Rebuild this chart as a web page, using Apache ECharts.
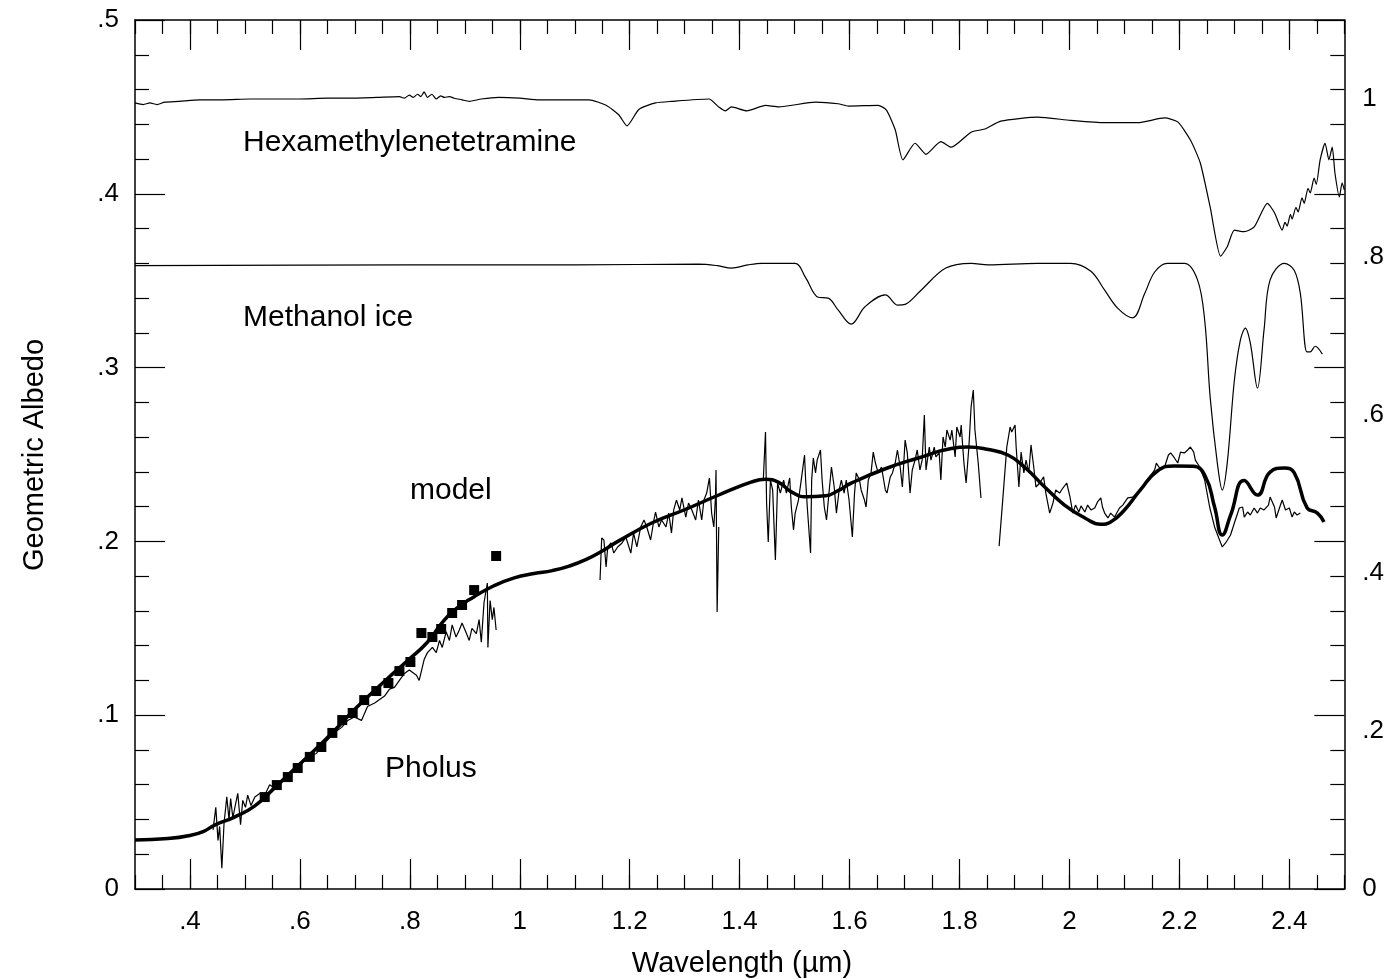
<!DOCTYPE html>
<html>
<head>
<meta charset="utf-8">
<script src="https://cdn.jsdelivr.net/npm/echarts@6/dist/echarts.min.js"></script>
<style>html,body{margin:0;padding:0;background:#fff}#c{width:1387px;height:979px}</style>
</head>
<body>
<div id="c"></div>
<script>
// ---------- data (wavelength in micrometres) ----------
const xTickLabels = [0.4,0.6,0.8,1.0,1.2,1.4,1.6,1.8,2.0,2.2,2.4];
const leftTickLabels = [0,0.1,0.2,0.3,0.4,0.5];
const rightTickLabels = [0,0.2,0.4,0.6,0.8,1.0];

// Hexamethylenetetramine lab spectrum (reflectance, right axis)
const hexamethylenetetramine = [
[0.300,0.995],[0.315,0.993],[0.327,0.995],[0.340,0.993],[0.354,0.996],[0.380,0.997],[0.418,0.999],[0.460,0.999],
[0.509,1.000],[0.560,1.000],[0.599,1.000],[0.650,1.001],[0.690,1.001],[0.740,1.002],[0.781,1.003],[0.790,1.001],
[0.799,1.005],[0.806,1.002],[0.814,1.006],[0.820,1.003],[0.826,1.009],[0.832,1.002],[0.840,1.006],[0.848,1.000],
[0.856,1.004],[0.863,1.002],[0.872,1.003],[0.881,1.001],[0.895,0.999],[0.908,0.997],[0.930,1.000],[0.962,1.002],
[1.000,1.001],[1.035,0.999],[1.080,0.999],[1.126,0.999],[1.157,0.992],[1.180,0.980],[1.195,0.966],[1.217,0.987],
[1.247,0.995],[1.276,0.997],[1.344,1.000],[1.362,0.990],[1.374,0.985],[1.385,0.990],[1.413,0.985],[1.447,0.992],
[1.471,0.990],[1.538,0.996],[1.579,0.994],[1.598,0.991],[1.652,0.992],[1.667,0.986],[1.683,0.961],[1.697,0.923],
[1.719,0.944],[1.739,0.930],[1.766,0.946],[1.785,0.939],[1.821,0.958],[1.846,0.962],[1.875,0.972],[1.942,0.977],
[2.002,0.973],[2.064,0.970],[2.124,0.970],[2.173,0.976],[2.197,0.971],[2.220,0.948],[2.238,0.919],[2.256,0.863],
[2.275,0.801],[2.287,0.813],[2.300,0.834],[2.318,0.832],[2.336,0.838],[2.360,0.868],[2.373,0.856],[2.387,0.834],
[2.392,0.844],[2.396,0.839],[2.402,0.854],[2.405,0.848],[2.412,0.863],[2.416,0.857],[2.423,0.875],[2.427,0.868],
[2.434,0.887],[2.438,0.881],[2.445,0.900],[2.449,0.892],[2.456,0.923],[2.465,0.944],
[2.472,0.923],[2.478,0.939],[2.483,0.906],[2.491,0.876],[2.496,0.894],[2.500,0.885]
];

// Methanol ice lab spectrum (reflectance, right axis)
const methanolIce = [
[0.300,0.789],[0.800,0.790],[1.100,0.790],[1.325,0.791],[1.360,0.789],[1.385,0.786],[1.415,0.790],[1.440,0.792],
[1.501,0.792],[1.520,0.774],[1.543,0.749],[1.561,0.748],[1.579,0.733],[1.603,0.715],[1.628,0.737],[1.665,0.752],
[1.688,0.739],[1.701,0.740],[1.730,0.758],[1.775,0.786],[1.821,0.792],[1.852,0.790],[1.942,0.792],[2.002,0.792],
[2.039,0.782],[2.064,0.758],[2.088,0.735],[2.115,0.723],[2.137,0.754],[2.155,0.781],[2.178,0.792],[2.209,0.792],
[2.233,0.771],[2.246,0.720],[2.256,0.622],[2.269,0.539],[2.278,0.505],[2.287,0.539],[2.300,0.644],[2.311,0.695],
[2.320,0.710],[2.329,0.691],[2.342,0.634],[2.354,0.708],[2.365,0.771],[2.391,0.792],[2.409,0.783],[2.420,0.754],
[2.432,0.680],[2.438,0.680],[2.447,0.687],[2.460,0.677]
];

// Pholus model (geometric albedo, left axis)
const pholusModel = [
[0.300,0.0282],[0.360,0.0290],[0.400,0.0308],[0.425,0.0332],[0.445,0.0368],[0.481,0.0414],[0.518,0.0478],[0.554,0.0582],
[0.590,0.0690],[0.627,0.0800],[0.663,0.0912],[0.694,0.1015],[0.723,0.1105],[0.759,0.1210],[0.795,0.1312],[0.832,0.1420],
[0.857,0.1525],[0.881,0.1605],[0.917,0.1682],[0.953,0.1745],[0.990,0.1790],[1.026,0.1815],[1.059,0.1832],[1.090,0.1858],
[1.120,0.1895],[1.150,0.1945],[1.180,0.2003],[1.240,0.2106],[1.302,0.2185],[1.362,0.2267],[1.422,0.2342],[1.447,0.2357],
[1.471,0.2340],[1.494,0.2285],[1.520,0.2257],[1.556,0.2262],[1.579,0.2292],[1.603,0.2335],[1.665,0.2418],[1.725,0.2480],
[1.785,0.2535],[1.815,0.2543],[1.850,0.2530],[1.888,0.2497],[1.919,0.2425],[1.955,0.2313],[1.991,0.2209],[2.028,0.2135],
[2.057,0.2098],[2.075,0.2112],[2.100,0.2181],[2.129,0.2296],[2.160,0.2405],[2.191,0.2434],[2.225,0.2432],[2.247,0.2375],
[2.264,0.2198],[2.278,0.2037],[2.293,0.2150],[2.318,0.2350],[2.342,0.2267],[2.365,0.2399],[2.391,0.2422],[2.409,0.2394],
[2.432,0.2195],[2.451,0.2163],[2.463,0.2112]
];

// Pholus photometry (squares)
const pholusPhotometry = [
[0.536,0.0529],[0.558,0.0598],[0.578,0.0644],[0.596,0.0696],[0.618,0.0760],[0.639,0.0817],[0.659,0.0898],[0.677,0.0972],
[0.696,0.1013],[0.717,0.1087],[0.739,0.1139],[0.761,0.1185],[0.781,0.1254],[0.801,0.1306],[0.821,0.1473],[0.841,0.1450],
[0.857,0.1496],[0.877,0.1588],[0.895,0.1634],[0.917,0.1720],[0.957,0.1916]
];

// Pholus observed spectrum, visible segment
const pholusVisible = [
[0.442,0.034],[0.447,0.047],[0.451,0.028],[0.454,0.036],[0.458,0.012],[0.462,0.038],[0.467,0.053],[0.471,0.040],
[0.474,0.052],[0.478,0.041],[0.483,0.049],[0.487,0.055],[0.492,0.037],[0.496,0.051],[0.501,0.047],[0.505,0.054],
[0.511,0.048],[0.518,0.053],[0.527,0.055],[0.536,0.054],[0.545,0.060],[0.554,0.058],[0.567,0.063],[0.578,0.066],
[0.590,0.068],[0.603,0.072],[0.614,0.076],[0.630,0.078],[0.645,0.084],[0.663,0.090],[0.676,0.093],[0.687,0.097],
[0.699,0.099],[0.712,0.097],[0.723,0.105],[0.736,0.107],[0.745,0.109],[0.754,0.111],[0.763,0.115],[0.772,0.116],
[0.781,0.120],[0.790,0.124],[0.799,0.126],[0.812,0.123],[0.817,0.120],[0.826,0.132],[0.832,0.136],[0.841,0.139],
[0.848,0.136],[0.854,0.143],[0.859,0.139],[0.866,0.148],[0.872,0.143],[0.877,0.152],[0.884,0.145],[0.890,0.149],
[0.895,0.153],[0.903,0.147],[0.908,0.143],[0.913,0.150],[0.921,0.147],[0.926,0.155],[0.930,0.142],[0.935,0.165],
[0.941,0.176],[0.942,0.139],[0.946,0.166],[0.950,0.155],[0.953,0.162],[0.957,0.149]
];

// Pholus observed spectrum, J band
const pholusJ = [
[1.146,0.1778],[1.149,0.2020],[1.153,0.2008],[1.157,0.1853],[1.160,0.1968],[1.166,0.1991],[1.171,0.1933],[1.178,0.1968],
[1.186,0.1991],[1.193,0.2025],[1.202,0.1933],[1.207,0.2048],[1.213,0.1968],[1.220,0.2083],[1.226,0.2123],[1.231,0.2083],
[1.238,0.2008],[1.244,0.2123],[1.247,0.2169],[1.253,0.2083],[1.258,0.2123],[1.266,0.2083],[1.271,0.2163],[1.276,0.2048],
[1.280,0.2181],[1.285,0.2238],[1.291,0.2181],[1.295,0.2250],[1.302,0.2140],[1.307,0.2221],[1.313,0.2181],[1.320,0.2123],
[1.325,0.2238],[1.331,0.2123],[1.335,0.2238],[1.340,0.2278],[1.345,0.2365],[1.349,0.2163],[1.353,0.2083],[1.356,0.2255],
[1.357,0.2411],[1.359,0.1594],[1.362,0.2083]
];

// Pholus observed spectrum, H band
const pholusH = [
[1.443,0.2353],[1.447,0.2629],[1.449,0.2221],[1.452,0.1997],[1.456,0.2353],[1.460,0.2296],[1.465,0.1893],[1.469,0.2336],
[1.474,0.2278],[1.480,0.2353],[1.485,0.2278],[1.491,0.2365],[1.494,0.2198],[1.498,0.2066],[1.501,0.2163],[1.507,0.2238],
[1.512,0.2353],[1.518,0.2497],[1.520,0.2353],[1.523,0.2198],[1.529,0.1933],[1.531,0.2353],[1.534,0.2480],[1.538,0.2394],
[1.541,0.2468],[1.547,0.2526],[1.550,0.2353],[1.554,0.2198],[1.558,0.2123],[1.563,0.2296],[1.567,0.2428],[1.572,0.2313],
[1.576,0.2163],[1.581,0.2296],[1.585,0.2353],[1.590,0.2278],[1.594,0.2353],[1.599,0.2238],[1.605,0.2025],[1.609,0.2278],
[1.612,0.2394],[1.618,0.2353],[1.621,0.2296],[1.627,0.2238],[1.630,0.2198],[1.634,0.2353],[1.639,0.2394],[1.643,0.2514],
[1.647,0.2451],[1.652,0.2394],[1.658,0.2428],[1.665,0.2296],[1.668,0.2278],[1.674,0.2371],[1.678,0.2394],[1.683,0.2451],
[1.687,0.2526],[1.692,0.2428],[1.696,0.2313],[1.701,0.2583],[1.705,0.2509],[1.710,0.2278],[1.714,0.2411],[1.719,0.2468],
[1.723,0.2526],[1.728,0.2411],[1.732,0.2468],[1.736,0.2727],[1.739,0.2411],[1.745,0.2543],[1.748,0.2468],[1.754,0.2543],
[1.757,0.2486],[1.763,0.2509],[1.766,0.2353],[1.770,0.2601],[1.774,0.2543],[1.777,0.2641],[1.783,0.2583],[1.786,0.2641],
[1.792,0.2486],[1.795,0.2658],[1.801,0.2601],[1.803,0.2670],[1.808,0.2451],[1.812,0.2336],[1.817,0.2543],[1.821,0.2773],
[1.825,0.2871],[1.828,0.2641],[1.834,0.2451],[1.839,0.2250]
];

// Pholus observed spectrum, K band
const pholusK = [
[1.872,0.1973],[1.879,0.2255],[1.886,0.2543],[1.892,0.2658],[1.895,0.2629],[1.901,0.2670],[1.903,0.2543],[1.908,0.2313],
[1.912,0.2514],[1.917,0.2394],[1.921,0.2468],[1.926,0.2394],[1.930,0.2555],[1.935,0.2428],[1.939,0.2313],[1.946,0.2336],
[1.953,0.2371],[1.957,0.2278],[1.964,0.2163],[1.970,0.2221],[1.975,0.2296],[1.982,0.2278],[1.988,0.2307],[1.995,0.2336],
[2.001,0.2255],[2.006,0.2163],[2.011,0.2209],[2.017,0.2169],[2.021,0.2204],[2.028,0.2169],[2.033,0.2209],[2.039,0.2181],
[2.046,0.2192],[2.051,0.2227],[2.057,0.2250],[2.060,0.2198],[2.064,0.2163],[2.070,0.2135],[2.075,0.2163],[2.082,0.2140],
[2.091,0.2192],[2.097,0.2209],[2.106,0.2250],[2.115,0.2255],[2.124,0.2278],[2.131,0.2296],[2.137,0.2336],[2.146,0.2371],
[2.155,0.2411],[2.158,0.2451],[2.164,0.2422],[2.173,0.2428],[2.180,0.2497],[2.184,0.2509],[2.191,0.2480],[2.197,0.2451],
[2.202,0.2514],[2.209,0.2509],[2.215,0.2526],[2.220,0.2543],[2.226,0.2514],[2.229,0.2468],[2.237,0.2428],[2.246,0.2353],
[2.255,0.2198],[2.264,0.2083],[2.273,0.2008],[2.278,0.1968],[2.284,0.1991],[2.293,0.2037],[2.300,0.2106],[2.309,0.2192],
[2.315,0.2198],[2.318,0.2140],[2.324,0.2169],[2.329,0.2152],[2.336,0.2192],[2.342,0.2163],[2.347,0.2192],[2.354,0.2181],
[2.362,0.2209],[2.365,0.2255],[2.373,0.2198],[2.376,0.2135],[2.382,0.2192],[2.387,0.2238],[2.393,0.2181],[2.400,0.2192],
[2.405,0.2140],[2.409,0.2169],[2.414,0.2152],[2.420,0.2163]
];

// ---------- chart ----------
const FONT = 'Liberation Sans, Arial, Helvetica, sans-serif';
const BLACK = '#000';
const xMajorTicks = [0.4,0.6,0.8,1.0,1.2,1.4,1.6,1.8,2.0,2.2,2.4];
function fmt(v){
  const r = Math.round(v*10)/10;
  if (r === 0) return '0';
  return String(r).replace(/^0\./, '.');
}
const axisLine = {show:true, onZero:false, lineStyle:{color:BLACK, width:1.5}};
const noLine = {show:false, onZero:false};
const tickFont = {color:BLACK, fontSize:26, fontFamily:FONT};

const chart = echarts.init(document.getElementById('c'), null, {renderer:'canvas'});
chart.setOption({
  animation:false,
  backgroundColor:'#fff',
  grid:{left:135, right:40, top:20, bottom:90, containLabel:false},
  xAxis:[
    {type:'value', min:0.3, max:2.5, interval:0.05, position:'bottom', axisLine:axisLine,
     axisTick:{show:true, inside:true, length:14, lineStyle:{color:BLACK, width:1.2}},
     axisLabel:Object.assign({show:true, customValues:xTickLabels, formatter:fmt, margin:20}, tickFont),
     splitLine:{show:false}},
    {type:'value', min:0.3, max:2.5, position:'bottom', axisLine:noLine,
     axisTick:{show:true, inside:true, length:30, customValues:xMajorTicks, lineStyle:{color:BLACK, width:1.2}},
     axisLabel:{show:false}, splitLine:{show:false}},
    {type:'value', min:0.3, max:2.5, interval:0.05, position:'top', axisLine:axisLine,
     axisTick:{show:true, inside:true, length:14, lineStyle:{color:BLACK, width:1.2}},
     axisLabel:{show:false}, splitLine:{show:false}},
    {type:'value', min:0.3, max:2.5, position:'top', axisLine:noLine,
     axisTick:{show:true, inside:true, length:30, customValues:xMajorTicks, lineStyle:{color:BLACK, width:1.2}},
     axisLabel:{show:false}, splitLine:{show:false}}
  ],
  yAxis:[
    {type:'value', min:0, max:0.5, interval:0.1, position:'left', axisLine:axisLine,
     axisTick:{show:true, inside:true, length:30, lineStyle:{color:BLACK, width:1.2}},
     minorTick:{show:true, splitNumber:5, length:14, lineStyle:{color:BLACK, width:1.2}},
     axisLabel:Object.assign({show:true, customValues:leftTickLabels, formatter:fmt, margin:16}, tickFont),
     splitLine:{show:false}, minorSplitLine:{show:false}},
    {type:'value', min:0, max:0.5, interval:0.1, position:'right', axisLine:axisLine,
     axisTick:{show:true, inside:true, length:30, lineStyle:{color:BLACK, width:1.2}},
     minorTick:{show:true, splitNumber:5, length:14, lineStyle:{color:BLACK, width:1.2}},
     axisLabel:{show:false}, splitLine:{show:false}, minorSplitLine:{show:false}},
    {type:'value', min:0, max:1.1, interval:0.2, position:'right', axisLine:noLine,
     axisTick:{show:false},
     axisLabel:Object.assign({show:true, customValues:rightTickLabels, formatter:fmt, margin:18}, tickFont),
     splitLine:{show:false}}
  ],
  series:[
    {name:'Hexamethylenetetramine', type:'line', yAxisIndex:2, data:hexamethylenetetramine, showSymbol:false,
     smooth:0.2, lineStyle:{color:BLACK, width:1.2}},
    {name:'Methanol ice', type:'line', yAxisIndex:2, data:methanolIce, showSymbol:false,
     smooth:0.35, lineStyle:{color:BLACK, width:1.2}},
    {name:'Pholus visible', type:'line', data:pholusVisible, showSymbol:false, lineStyle:{color:BLACK, width:1.2}},
    {name:'Pholus J', type:'line', data:pholusJ, showSymbol:false, lineStyle:{color:BLACK, width:1.2}},
    {name:'Pholus H', type:'line', data:pholusH, showSymbol:false, lineStyle:{color:BLACK, width:1.2}},
    {name:'Pholus K', type:'line', data:pholusK, showSymbol:false, lineStyle:{color:BLACK, width:1.2}},
    {name:'model', type:'line', data:pholusModel, showSymbol:false, smooth:0.5,
     lineStyle:{color:BLACK, width:3.5}},
    {name:'Pholus photometry', type:'scatter', data:pholusPhotometry, symbol:'rect', symbolSize:10,
     itemStyle:{color:BLACK, opacity:1}}
  ],
  graphic:[
    {type:'text', x:243, y:143, style:{text:'Hexamethylenetetramine', fill:BLACK, fontSize:30, fontFamily:FONT, align:'left', verticalAlign:'middle'}},
    {type:'text', x:243, y:318, style:{text:'Methanol ice', fill:BLACK, fontSize:30, fontFamily:FONT, align:'left', verticalAlign:'middle'}},
    {type:'text', x:410, y:491, style:{text:'model', fill:BLACK, fontSize:30, fontFamily:FONT, align:'left', verticalAlign:'middle'}},
    {type:'text', x:385, y:769, style:{text:'Pholus', fill:BLACK, fontSize:30, fontFamily:FONT, align:'left', verticalAlign:'middle'}},
    {type:'text', x:742, y:964, style:{text:'Wavelength (µm)', fill:BLACK, fontSize:29, fontFamily:FONT, align:'center', verticalAlign:'middle'}},
    {type:'text', x:35, y:455, rotation:Math.PI/2, style:{text:'Geometric Albedo', fill:BLACK, fontSize:29, fontFamily:FONT, align:'center', verticalAlign:'middle'}}
  ]
});
</script>
</body>
</html>
